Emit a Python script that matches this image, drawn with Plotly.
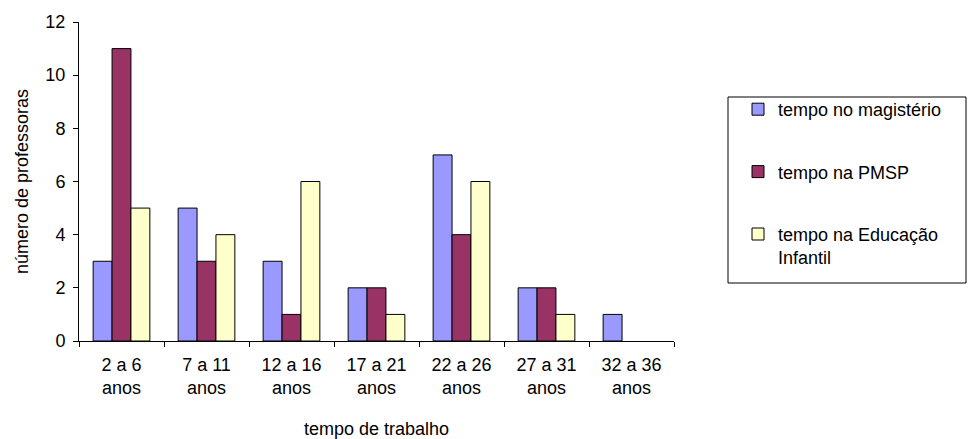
import plotly.graph_objects as go

# Faixas de tempo de trabalho (categorias do eixo x)
categories = ["2 a 6<br>anos", "7 a 11<br>anos", "12 a 16<br>anos", "17 a 21<br>anos",
              "22 a 26<br>anos", "27 a 31<br>anos", "32 a 36<br>anos"]

# Número de professoras por faixa
tempo_magisterio = [3, 5, 3, 2, 7, 2, 1]
tempo_pmsp = [11, 3, 1, 2, 4, 2, 0]
tempo_educacao_infantil = [5, 4, 6, 1, 6, 1, 0]

series_names = ["tempo no magistério", "tempo na PMSP", "tempo na Educação<br>Infantil"]
series_colors = ["#9999FF", "#993366", "#FFFFCC"]

FONT = "Liberation Sans, Arial, sans-serif"
FS = 18

fig = go.Figure()
for name, values, color in zip(series_names,
                               [tempo_magisterio, tempo_pmsp, tempo_educacao_infantil],
                               series_colors):
    # empty bars get no outline so nothing is drawn on the axis
    widths = [1 if v else 0 for v in values]
    fig.add_trace(go.Bar(
        x=categories, y=values, name=name, legendgroup=name,
        marker=dict(color=color, line=dict(color="black", width=widths)),
    ))

# Plot area geometry in paper coordinates for the legend frame
plot_l, plot_r, plot_t, plot_b = 79, 674, 22, 341
W, H = 968, 439

def px_x(x):
    return (x - plot_l) / (plot_r - plot_l)

def px_y(y):
    return (plot_b - y) / (plot_b - plot_t)

fig.update_layout(
    width=W, height=H,
    margin=dict(l=plot_l, r=W - plot_r, t=plot_t, b=H - plot_b),
    paper_bgcolor="white", plot_bgcolor="white",
    font=dict(family=FONT, size=FS, color="black"),
    barmode="group", bargap=0.333, bargroupgap=0,
    showlegend=True,
    legend=dict(
        x=px_x(738), y=px_y(91), xanchor="left", yanchor="top",
        bgcolor="rgba(0,0,0,0)", borderwidth=0,
        tracegroupgap=36, valign="top",
        font=dict(family=FONT, size=FS, color="black"),
    ),
    shapes=[dict(
        type="rect", xref="paper", yref="paper",
        x0=px_x(728), x1=px_x(966), y0=px_y(283), y1=px_y(97),
        line=dict(color="black", width=1), fillcolor="rgba(0,0,0,0)",
    )],
)

fig.update_xaxes(
    type="category", showline=True, linecolor="black", linewidth=1,
    ticks="outside", tickson="boundaries", ticklen=5, tickcolor="black",
    ticklabelstandoff=7, automargin=False,
    showgrid=False, zeroline=False,
    title=dict(text="tempo de trabalho", standoff=26,
               font=dict(family=FONT, size=FS, color="black")),
)
fig.update_yaxes(
    range=[0, 12], dtick=2, showline=True, linecolor="black", linewidth=1,
    ticks="outside", ticklen=5, tickcolor="black", ticklabelstandoff=4,
    automargin=False,
    showgrid=False, zeroline=False,
    title=dict(text="número de professoras", standoff=12,
               font=dict(family=FONT, size=FS, color="black")),
)

fig.write_html("out.html")
